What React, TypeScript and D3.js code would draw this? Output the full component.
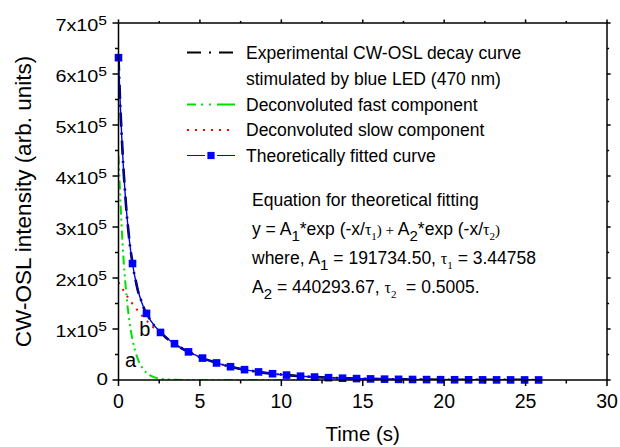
import React from 'react';
import * as d3 from 'd3';

// ---------- data ----------
const expTime = [0, 0.1, 0.2, 0.3, 0.4, 0.5, 0.6, 0.7, 0.8, 0.9, 1.0, 1.2, 1.4, 1.6, 1.8, 2.0, 2.5, 3, 3.5, 4, 4.5, 5, 6, 7, 8, 9, 10, 11, 12, 13, 14, 15, 16, 17, 18, 19, 20, 21, 22, 23, 24, 25, 26];
const expIntensity = [634000, 545000, 478000, 416000, 370000, 327000, 295000, 264000, 242000, 219000, 204000, 174000, 155500, 137800, 126500, 115000, 96300, 81000, 70200, 60000, 52300, 44700, 33900, 25000, 19000, 14000, 10700, 7800, 6000, 4350, 3350, 2450, 1900, 1400, 1050, 780, 600, 450, 340, 260, 190, 150, 110];

const fitLineIntensity = [632028, 546803, 476181, 417533, 368719, 327980, 293874, 265229, 241058, 220590, 203160, 175417, 154592, 138552, 125822, 115434, 95820, 81407, 69874, 60239, 52038, 44980, 33640, 25170, 18830, 14090, 10540, 7886, 5902, 4416, 3304, 2473, 1849, 1384, 1035, 775, 579, 434, 324, 243, 181, 136, 102];

const fitMarkerTime = [0, 0.86, 1.72, 2.58, 3.44, 4.3, 5.16, 6.02, 6.88, 7.74, 8.6, 9.46, 10.32, 11.18, 12.04, 12.9, 13.76, 14.62, 15.48, 16.34, 17.2, 18.06, 18.92, 19.78, 20.64, 21.5, 22.36, 23.22, 24.08, 24.94, 25.8];
const fitMarkerIntensity = [632028, 228378, 130586, 93262, 71146, 55165, 42937, 33449, 26063, 20309, 15825, 12331, 9609, 7487, 5834, 4546, 3543, 2761, 2151, 1676, 1306, 1018, 793, 618, 482, 375, 292, 228, 178, 138, 108];

const fastTime = [0, 0.25, 0.5, 0.75, 1, 1.25, 1.5, 1.75, 2, 2.5, 3, 3.5, 4, 5, 6, 8, 10, 12, 14, 16, 18, 20, 22, 24, 26];
const fastIntensity = [440294, 267170, 162130, 98390, 59700, 36240, 21990, 13340, 8094, 2980, 1097, 404, 149, 20, 3, 0, 0, 0, 0, 0, 0, 0, 0, 0, 0];

const slowTime = [0, 0.25, 0.5, 0.75, 1, 1.5, 2, 2.5, 3, 3.5, 4, 5, 6, 7, 8, 9, 10, 12, 14, 16, 18, 20, 22, 24, 26];
const slowIntensity = [191735, 178320, 165850, 154250, 143460, 124090, 107340, 92840, 80310, 69470, 60090, 44960, 33640, 25170, 18830, 14090, 10540, 5902, 3304, 1849, 1035, 579, 324, 181, 102];

const xTicks = [0, 5, 10, 15, 20, 25, 30];
const yTickMultipliers = [0, 1, 2, 3, 4, 5, 6, 7];

const legendLabels = [
  'Experimental CW-OSL decay curve',
  'stimulated by blue LED (470 nm)',
  'Deconvoluted fast component',
  'Deconvoluted slow component',
  'Theoretically fitted curve',
];

const W = 620;
const H = 447;
const SANS = '"Liberation Sans", Arial, Helvetica, sans-serif';
const SERIF = '"Liberation Serif", "Times New Roman", serif';

const x = d3.scaleLinear().domain([0, 30]).range([118.5, 607]);
const y = d3.scaleLinear().domain([0, 7e5]).range([380, 23]);

type P = [number, number];
const zip = (t: number[], v: number[]): P[] => t.map((d, i) => [d, v[i]]);

const lineGen = d3
  .line<P>()
  .x((d) => x(d[0]))
  .y((d) => y(d[1]))
  .curve(d3.curveMonotoneX);

export default function App() {
  const [x0, x1] = x.range();
  const [y0, y1] = y.range();
  const majorX = xTicks;
  const minorX = d3.range(2.5, 30, 5);
  const majorY = yTickMultipliers.map((m) => m * 1e5);
  const minorY = d3.range(0.5e5, 7e5, 1e5);
  const MAJ = 6;
  const MIN = 3.5;

  const legendX0 = 187;
  const legendX1 = 235;
  const legendTextX = 246;
  const legendBase = [58.5, 84.5, 110.5, 136, 161.5];

  const eqX = 252;
  const eqBase = [206, 235, 264, 293];
  const fs = 17.5;

  return (
    <svg width={W} height={H} style={{ position: 'absolute', left: 0, top: 0, background: '#fff' }}>
      <defs>
        <clipPath id="plot">
          <rect x={x0} y={y1} width={x1 - x0} height={y0 - y1} />
        </clipPath>
      </defs>
      <rect x={0} y={0} width={W} height={H} fill="#fff" />

      {/* curves */}
      <g clipPath="url(#plot)" fill="none">
        <path d={lineGen(zip(fastTime, fastIntensity)) || ''} stroke="#00e000" strokeWidth={2} strokeDasharray="9,4,2,4,2,4" />
        <path d={lineGen(zip(slowTime, slowIntensity)) || ''} stroke="#ff0000" strokeWidth={2} strokeDasharray="2,6" />
        <path d={lineGen(zip(expTime, expIntensity)) || ''} stroke="#000" strokeWidth={2.6} strokeDasharray="14,6,2,6" />
        <path d={lineGen(zip(expTime, fitLineIntensity)) || ''} stroke="#0000ee" strokeWidth={1.4} />
      </g>
      {fitMarkerTime.map((t, i) => (
        <rect key={i} x={x(t) - 3.8} y={y(fitMarkerIntensity[i]) - 3.8} width={7.6} height={7.6} fill="#0000ff" />
      ))}

      {/* axes frame */}
      <g stroke="#000" strokeWidth={1.5} fill="none">
        <rect x={x0} y={y1} width={x1 - x0} height={y0 - y1} />
        {majorX.map((t) => (
          <g key={'mx' + t}>
            <line x1={x(t)} x2={x(t)} y1={y0} y2={y0 + MAJ} />
            <line x1={x(t)} x2={x(t)} y1={y1} y2={y1 - MAJ * 0.6} />
          </g>
        ))}
        {minorX.map((t) => (
          <g key={'nx' + t}>
            <line x1={x(t)} x2={x(t)} y1={y0} y2={y0 + MIN} />
            <line x1={x(t)} x2={x(t)} y1={y1} y2={y1 - MIN * 0.6} />
          </g>
        ))}
        {majorY.map((v) => (
          <g key={'my' + v}>
            <line x1={x0} x2={x0 - MAJ} y1={y(v)} y2={y(v)} />
            <line x1={x1} x2={x1 + MAJ * 0.6} y1={y(v)} y2={y(v)} />
          </g>
        ))}
        {minorY.map((v) => (
          <g key={'ny' + v}>
            <line x1={x0} x2={x0 - MIN} y1={y(v)} y2={y(v)} />
            <line x1={x1} x2={x1 + MIN * 0.6} y1={y(v)} y2={y(v)} />
          </g>
        ))}
      </g>

      {/* tick labels */}
      <g fontFamily={SANS} fill="#000">
        {majorX.map((t) => (
          <text key={'lx' + t} x={x(t)} y={y0 + 27.5} fontSize={19.5} textAnchor="middle">
            {t}
          </text>
        ))}
        {yTickMultipliers.map((m) =>
          m === 0 ? (
            <text key={'ly' + m} transform={`translate(108, ${y(0) + 4.5}) scale(1.25, 1)`} fontSize={16.5} textAnchor="end">
              0
            </text>
          ) : (
            <text key={'ly' + m} transform={`translate(107, ${y(m * 1e5) + 8.2}) scale(1.2, 1)`} fontSize={16.5} textAnchor="end">
              {`${m}x10`}
              <tspan fontSize={13} dy={-6.5}>5</tspan>
            </text>
          )
        )}
      </g>

      {/* axis titles */}
      <text x={(x0 + x1) / 2} y={441} fontFamily={SANS} fontSize={20.5} textAnchor="middle">
        Time (s)
      </text>
      <text
        transform={`translate(31, ${(y0 + y1) / 2}) rotate(-90)`}
        fontFamily={SANS}
        fontSize={22.5}
        textAnchor="middle"
      >
        CW-OSL intensity (arb. units)
      </text>

      {/* curve labels */}
      <text x={x(0.4)} y={y(0.26e5)} fontFamily={SANS} fontSize={20}>a</text>
      <text x={x(1.28)} y={y(0.86e5)} fontFamily={SANS} fontSize={20}>b</text>

      {/* legend */}
      <g fill="none">
        <line x1={legendX0} x2={legendX1} y1={legendBase[0] - 6} y2={legendBase[0] - 6} stroke="#000" strokeWidth={2} strokeDasharray="14,8,2,8,14" />
        <line x1={legendX0} x2={legendX1} y1={legendBase[2] - 6} y2={legendBase[2] - 6} stroke="#00e000" strokeWidth={2} strokeDasharray="9,5,2,6,2,6,18" />
        <line x1={legendX0} x2={legendX1} y1={legendBase[3] - 6} y2={legendBase[3] - 6} stroke="#ff0000" strokeWidth={2} strokeDasharray="2,6" />
        <line x1={legendX0} x2={legendX1} y1={legendBase[4] - 6} y2={legendBase[4] - 6} stroke="#0000ff" strokeWidth={1.2} strokeDasharray="18,12,18" />
        <rect x={(legendX0 + legendX1) / 2 - 3.6} y={legendBase[4] - 6 - 3.6} width={7.2} height={7.2} fill="#0000ff" />
      </g>
      <g fontFamily={SANS} fontSize={fs} fill="#000">
        {legendLabels.map((s, i) => (
          <text key={s} x={legendTextX} y={legendBase[i]}>
            {s}
          </text>
        ))}
      </g>

      {/* equation */}
      <g fontFamily={SANS} fontSize={fs} fill="#000">
        <text x={eqX} y={eqBase[0]}>Equation for theoretical fitting</text>
        <text x={eqX} y={eqBase[1]}>
          y = A<tspan fontSize={15} dy={6}>1</tspan>
          <tspan dy={-6}>*exp (-x/</tspan>
          <tspan fontFamily={SERIF} fontSize={16}>τ</tspan>
          <tspan fontFamily={SERIF} fontSize={11} dy={5}>1</tspan>
          <tspan fontFamily={SERIF} fontSize={15} dy={-5}>) + </tspan>
          <tspan>A</tspan>
          <tspan fontSize={15} dy={6}>2</tspan>
          <tspan dy={-6}>*exp (-x/</tspan>
          <tspan fontFamily={SERIF} fontSize={16}>τ</tspan>
          <tspan fontFamily={SERIF} fontSize={11} dy={5}>2</tspan>
          <tspan fontFamily={SERIF} fontSize={15} dy={-5}>)</tspan>
        </text>
        <text x={eqX} y={eqBase[2]}>
          where, A<tspan fontSize={15} dy={6}>1</tspan>
          <tspan dy={-6}> = 191734.50, </tspan>
          <tspan fontFamily={SERIF} fontSize={16}>τ</tspan>
          <tspan fontFamily={SERIF} fontSize={11} dy={5}>1</tspan>
          <tspan dy={-5}> = 3.44758</tspan>
        </text>
        <text x={eqX} y={eqBase[3]}>
          A<tspan fontSize={15} dy={6}>2</tspan>
          <tspan dy={-6}> = 440293.67, </tspan>
          <tspan fontFamily={SERIF} fontSize={16}>τ</tspan>
          <tspan fontFamily={SERIF} fontSize={11} dy={5}>2</tspan>
          <tspan dy={-5} xmlSpace="preserve">{'  = 0.5005.'}</tspan>
        </text>
      </g>
    </svg>
  );
}
